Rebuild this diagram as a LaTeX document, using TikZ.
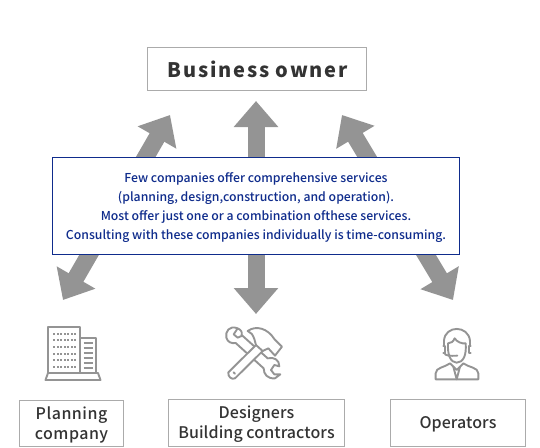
\documentclass[tikz,border=0pt]{standalone}
\usepackage{fontspec}
\usepackage{xcolor}
\setmainfont{Noto Sans CJK JP}
\newfontfamily\medfont{Noto Sans CJK JP Medium}
\newfontfamily\ownerfont[LetterSpace=9]{Noto Sans CJK JP}
\newfontfamily\lblfont[LetterSpace=.5]{Noto Sans CJK JP Medium}
\newfontfamily\planfont[LetterSpace=3]{Noto Sans CJK JP Medium}
\usetikzlibrary{arrows.meta}
\definecolor{arrowgray}{HTML}{949494}
\definecolor{linegray}{HTML}{ABABAB}
\definecolor{icongray}{HTML}{949494}
\definecolor{infoblue}{HTML}{0F2C8C}
\definecolor{inktext}{HTML}{333333}
\newcommand{\low}[2][2pt]{\raisebox{-#1}[\height][\depth]{#2}}
\tikzset{
  bigarr/.style={arrowgray, line width=17pt,
                 {Triangle[length=26pt,width=43pt]}-{Triangle[length=26pt,width=43pt]}},
  actor/.style={draw=linegray, line width=1pt, fill=white, align=center,
                inner sep=0pt, text=inktext, font=\lblfont\fontsize{16}{20.5}\selectfont},
  owner/.style={actor, font=\ownerfont\bfseries\fontsize{20}{24}\selectfont},
  info/.style={draw=infoblue, line width=1pt, fill=white, align=center, inner sep=0pt,
               text=infoblue, font=\medfont\fontsize{12.26}{19}\selectfont},
  icon/.style={icongray, line width=1.9pt, line join=round, line cap=round},
}
\begin{document}
\begin{tikzpicture}[x=1pt,y=-1pt]
  \useasboundingbox (0,0) rectangle (540,447);
  \coordinate (tipUL) at (170,115);
  \coordinate (tipDL) at (63,300);
  \coordinate (tipUM) at (256,101);
  \coordinate (tipDM) at (256,314);
  \coordinate (tipUR) at (342,115);
  \coordinate (tipDR) at (453,300);
  \draw[bigarr] (tipDL) -- (tipUL);
  \draw[bigarr] (tipDM) -- (tipUM);
  \draw[bigarr] (tipDR) -- (tipUR);

  \node[owner, minimum width=219pt, minimum height=43pt] (bo) at (257,69) {\hspace{1.5pt}Business owner};
  \node[info, minimum width=407pt, minimum height=97pt] (few) at (256,205.5)
    {\low{Few companies offer comprehensive services}\\
     \low{(planning, design,construction, and operation).}\\
     \low{Most offer just one or a combination ofthese services.}\\
     \low{Consulting with these companies individually is time-consuming.}};
  \node[actor, minimum width=104pt, minimum height=46pt, font=\planfont\fontsize{16}{20.5}\selectfont] (plan) at (71.5,423) {\low{Planning}\\\low{company}};
  \node[actor, minimum width=176pt, minimum height=47pt] (dsgn) at (256.5,423) {\low[1pt]{Designers}\\\low[1pt]{Building contractors}};
  \node[actor, minimum width=135pt, minimum height=47pt] (oper) at (458,423) {\low[1pt]{Operators}};

  % building
  \draw[icon] (48,373) -- (48,327) -- (80,327) -- (80,373);
  \draw[icon] (80,338) -- (96,338) -- (96,373);
  \draw[icon] (45.5,380) -- (48,373) -- (98,373) -- (100.5,380) -- cycle;
  \foreach \yy in {333.5,340,347,353.5,360,367}
    \foreach \xx in {54,57.5,61,64.5,68,71.5,75}
      \fill[icongray] (\xx-1,\yy-1) rectangle (\xx+1,\yy+1);
  \foreach \yy in {343,348,353,358,363,368}
    \draw[icongray, line width=1.5pt] (83.5,\yy) -- (92.5,\yy);

  % tools
  \begin{scope}[shift={(211,315)}, x=.3333pt, y=-.3333pt, icon]
    \draw[fill=white] (80,40) .. controls (55,30) and (42,50) .. (46,68)
      .. controls (50,82) and (62,86) .. (74,84) -- (158,160)
      .. controls (158,178) and (170,192) .. (192,190)
      -- (208,178) -- (190,178) -- (180,165) -- (190,150) -- (205,154)
      .. controls (205,135) and (190,125) .. (170,130) -- (92,60)
      .. controls (94,50) and (90,45) .. (80,40) -- (68,58) -- (80,68) -- (94,62);
    \draw[fill=white] (110,48) .. controls (135,30) and (170,40) .. (190,72)
      -- (213,95) -- (192,122) -- (172,100) -- (155,108) -- (72,190)
      .. controls (62,195) and (50,185) .. (52,172) -- (135,90)
      -- (130,72) .. controls (125,58) and (120,52) .. (110,48) -- cycle;
    \draw (135,90) -- (155,108);
    \draw (68,172) -- (72,176);
  \end{scope}

  % operator
  \begin{scope}[shift={(420,320)}, x=.3333pt, y=-.3333pt, icon]
    \draw (84,70) .. controls (82,105) and (92,128) .. (110,128)
      .. controls (130,128) and (140,105) .. (137,70)
      .. controls (125,72) and (110,65) .. (104,55) .. controls (100,65) and (92,70) .. (84,70);
    \draw (72,78) -- (72,62) .. controls (75,15) and (145,15) .. (150,62) -- (150,78);
    \draw (70,78) -- (76,78) -- (76,98) -- (70,98);
    \draw (152,78) -- (146,78) -- (146,98) -- (152,98);
    \draw (73,98) .. controls (75,108) and (88,108) .. (112,107);
    \draw (47,178) -- (47,160) .. controls (47,142) and (75,142) .. (90,130)
      -- (110,150) -- (130,130) .. controls (145,142) and (175,142) .. (175,160) -- (175,178) -- cycle;
    \draw (100,140) -- (110,178) -- (120,140);
  \end{scope}
\end{tikzpicture}
\end{document}
